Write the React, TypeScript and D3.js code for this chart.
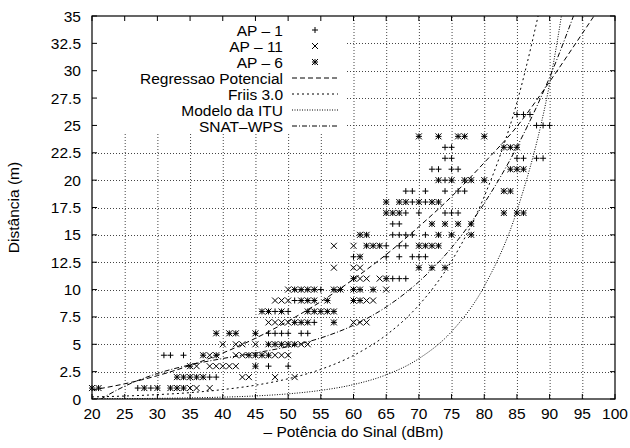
import { useEffect, useRef } from 'react'
import * as d3 from 'd3'

// eixos
const xTicks = [20, 25, 30, 35, 40, 45, 50, 55, 60, 65, 70, 75, 80, 85, 90, 95, 100]
const yTicks = [0, 2.5, 5, 7.5, 10, 12.5, 15, 17.5, 20, 22.5, 25, 27.5, 30, 32.5, 35]

// medições: [-potência (dBm), distância (m)]
const ap1: [number, number][] = [
  [27, 1], [29, 1], [38, 2], [39, 2], [47, 3], [50, 3], [31, 4], [32, 4], [34, 4],
  [47, 6], [48, 6], [49, 6], [50, 6], [52, 6], [53, 6], [54, 7], [48, 8], [50, 8],
  [51, 9], [55, 10], [66, 11], [67, 11], [68, 11],
  [60, 13], [65, 13], [67, 13], [69, 13], [70, 13], [71, 13],
  [65, 14], [67, 14], [68, 14], [66, 15], [67, 15], [68, 15], [69, 15], [71, 15],
  [66, 16], [67, 16], [68, 17], [70, 17], [74, 17], [75, 17], [76, 17],
  [69, 18], [71, 18], [68, 19], [69, 19], [71, 19], [74, 19], [76, 19], [77, 19],
  [74, 20], [72, 21], [73, 21], [75, 21], [76, 21],
  [74, 22], [75, 22], [85, 22], [86, 22], [88, 22], [89, 22], [74, 23], [75, 23],
  [88, 25], [89, 25], [90, 25], [85, 26], [86, 26], [87, 26]
]

const ap11: [number, number][] = [
  [35, 1], [36, 1], [38, 1], [43, 2], [44, 2], [48, 2], [51, 2],
  [36, 3], [38, 3], [39, 3], [40, 3], [41, 3], [42, 3],
  [38, 4], [42, 4], [43, 4], [48, 4], [49, 4], [50, 4],
  [40, 5], [42, 5], [43, 5], [45, 5], [52, 5], [53, 5],
  [47, 7], [48, 7], [49, 7], [50, 7], [60, 7], [61, 7], [62, 7],
  [48, 9], [49, 9], [50, 9], [62, 9], [63, 9], [50, 10], [65, 10],
  [61, 11], [62, 11], [64, 11], [57, 12], [60, 12], [61, 12], [57, 14], [60, 14]
]

const ap6: [number, number][] = [
  [20, 1], [21, 1], [28, 1], [30, 1], [32, 1], [33, 1], [34, 1],
  [33, 2], [34, 2], [35, 2], [36, 2], [37, 2], [35, 3], [45, 3],
  [37, 4], [39, 4], [44, 4], [45, 4], [46, 4], [47, 4],
  [47, 5], [48, 5], [49, 5], [50, 5], [51, 5], [39, 6], [41, 6], [42, 6], [45, 6],
  [51, 7], [52, 7], [53, 7], [57, 7],
  [46, 8], [47, 8], [49, 8], [53, 8], [54, 8], [55, 8], [56, 8], [57, 8],
  [52, 9], [53, 9], [54, 9], [56, 9], [60, 9], [61, 9],
  [51, 10], [52, 10], [53, 10], [54, 10], [57, 10], [58, 10], [60, 10], [61, 10], [63, 10],
  [60, 11], [65, 11], [70, 12], [72, 12], [74, 12], [61, 13],
  [62, 14], [63, 14], [64, 14], [70, 14], [71, 14], [72, 14], [73, 14],
  [61, 15], [62, 15], [73, 15], [75, 15], [78, 15], [72, 16], [74, 16], [76, 16], [78, 16],
  [65, 17], [66, 17], [67, 17], [83, 17], [85, 17], [86, 17],
  [65, 18], [67, 18], [68, 18], [70, 18], [72, 18], [73, 18], [83, 19], [84, 19],
  [73, 20], [75, 20], [77, 20], [78, 20], [80, 20], [84, 21], [85, 21], [86, 21],
  [83, 23], [84, 23], [85, 23], [70, 24], [73, 24], [76, 24], [77, 24], [80, 24]
]

// curvas dos modelos
const regressao: [number, number][] = [
  [20, 0.82], [25, 1.39], [30, 2.13], [35, 3.07], [40, 4.2], [45, 5.55], [50, 7.12],
  [55, 8.9], [60, 10.95], [65, 13.2], [70, 15.75], [75, 18.5], [80, 21.6], [85, 24.9],
  [90, 29.0], [95, 33.4], [100, 37.9]
]
const friis: [number, number][] = [
  [20, 0.19], [25, 0.27], [30, 0.4], [35, 0.58], [40, 0.86], [45, 1.26], [50, 1.85],
  [55, 2.71], [60, 3.98], [65, 5.84], [70, 8.58], [75, 12.6], [80, 18.5], [85, 27.1], [90, 39.8]
]
const itu: [number, number][] = [
  [20, 0.02], [30, 0.06], [40, 0.17], [45, 0.28], [50, 0.47], [55, 0.79], [60, 1.32],
  [65, 2.21], [70, 3.69], [75, 6.16], [80, 10.3], [85, 17.2], [90, 28.8], [95, 48]
]
const snat: [number, number][] = [
  [20, -0.49], [25, 1.17], [30, 2.33], [35, 3.12], [40, 3.7], [45, 4.21], [50, 4.79],
  [55, 5.58], [60, 6.74], [65, 8.41], [70, 10.72], [75, 13.83], [80, 17.89], [85, 23.03],
  [90, 29.4], [95, 37.2]
]

const pointLabels = ['AP \u2013 1', 'AP \u2013 11', 'AP \u2013 6']
const lineLabels = ['Regressao Potencial', 'Friis 3.0', 'Modelo da ITU', 'SNAT\u2013WPS']
const dashes = ['5,3', '2,3', '1,1.5', '5,2,1,2']

function App() {
  const svg_ref = useRef<SVGSVGElement>(null)
  const width = 630,
        height = 448
  const font = '"Liberation Sans", Arial, Helvetica, sans-serif'
  const fs = 15.5

  useEffect(() => {
    const svg = d3.select(svg_ref.current)
    svg.selectAll('*').remove()

    const x = d3.scaleLinear([20, 100], [92, 615]),
          y = d3.scaleLinear([0, 35], [399, 16])
    const [x0, x1] = x.range(), [y0, y1] = y.range()

    svg.append('rect').attr('width', width).attr('height', height).attr('fill', '#fff')

    // grade pontilhada
    const grid = svg.append('g').attr('stroke', '#444').attr('stroke-width', 1)
      .attr('stroke-dasharray', '1,2')
    grid.selectAll('.gx').data(xTicks.slice(1, -1)).join('line')
      .attr('x1', d => x(d) + 0.5).attr('x2', d => x(d) + 0.5)
      .attr('y1', y0).attr('y2', y1)
    grid.selectAll('.gy').data(yTicks.slice(1, -1)).join('line')
      .attr('y1', d => Math.round(y(d)) + 0.5).attr('y2', d => Math.round(y(d)) + 0.5)
      .attr('x1', x0).attr('x2', x1)

    // fundo da legenda
    svg.append('rect').attr('x', x0).attr('y', y1).attr('width', 254).attr('height', 118)
      .attr('fill', '#fff')

    // borda e marcas
    svg.append('rect').attr('x', x0).attr('y', y1).attr('width', x1 - x0).attr('height', y0 - y1)
      .attr('fill', 'none').attr('stroke', '#000').attr('stroke-width', 1.2)
    const tk = svg.append('g').attr('stroke', '#000').attr('stroke-width', 1)
    const tl = 5
    xTicks.forEach(v => {
      tk.append('line').attr('x1', x(v)).attr('x2', x(v)).attr('y1', y0).attr('y2', y0 - tl)
      tk.append('line').attr('x1', x(v)).attr('x2', x(v)).attr('y1', y1).attr('y2', y1 + tl)
    })
    yTicks.forEach(v => {
      tk.append('line').attr('x1', x0).attr('x2', x0 + tl).attr('y1', y(v)).attr('y2', y(v))
      tk.append('line').attr('x1', x1).attr('x2', x1 - tl).attr('y1', y(v)).attr('y2', y(v))
    })

    const txt = svg.append('g').attr('font-family', font).attr('font-size', fs).attr('fill', '#000')
    txt.selectAll('.xl').data(xTicks).join('text')
      .attr('x', d => x(d)).attr('y', 419).attr('text-anchor', 'middle').text(d => d)
    txt.selectAll('.yl').data(yTicks).join('text')
      .attr('x', 81).attr('y', d => y(d) + 5.5).attr('text-anchor', 'end').text(d => d)
    txt.append('text').attr('x', (x0 + x1) / 2).attr('y', 437).attr('text-anchor', 'middle')
      .text('\u2013 Pot\u00eancia do Sinal (dBm)')
    txt.append('text').attr('transform', `translate(18.5, ${(y0 + y1) / 2}) rotate(-90)`)
      .attr('text-anchor', 'middle').text('Dist\u00e2ncia (m)')

    // curvas
    svg.append('clipPath').attr('id', 'plot-clip').append('rect')
      .attr('x', x0).attr('y', y1).attr('width', x1 - x0).attr('height', y0 - y1)
    const ln = d3.line<[number, number]>().x(d => x(d[0])).y(d => y(d[1])).curve(d3.curveMonotoneX)
    const curves = svg.append('g').attr('clip-path', 'url(#plot-clip)')
    ;[regressao, friis, itu, snat].forEach((c, i) => {
      curves.append('path').attr('d', ln(c)).attr('fill', 'none').attr('stroke', '#000')
        .attr('stroke-width', 1).attr('stroke-dasharray', dashes[i])
    })

    // marcadores
    const s = 3
    const plus = (g, cx, cy) => g.append('path')
      .attr('d', `M${cx - s},${cy}H${cx + s}M${cx},${cy - s}V${cy + s}`)
    const cross = (g, cx, cy) => g.append('path')
      .attr('d', `M${cx - s},${cy - s}L${cx + s},${cy + s}M${cx - s},${cy + s}L${cx + s},${cy - s}`)
    const star = (g, cx, cy) => { plus(g, cx, cy); cross(g, cx, cy) }
    const marks = [plus, cross, star]
    const pts = svg.append('g').attr('stroke', '#000').attr('stroke-width', 1).attr('fill', 'none')
    ;[ap1, ap11, ap6].forEach((data, i) => {
      data.forEach(d => marks[i](pts, x(d[0]), y(d[1])))
    })

    // legenda
    const lx = 283
    const rowY = (i: number) => 30 + 16 * i
    pointLabels.forEach((l, i) => {
      txt.append('text').attr('x', lx).attr('y', rowY(i) + 5.5).attr('text-anchor', 'end').text(l)
      marks[i](pts, 315, rowY(i))
    })
    lineLabels.forEach((l, i) => {
      const ry = rowY(i + 3)
      txt.append('text').attr('x', lx).attr('y', ry + 5.5).attr('text-anchor', 'end').text(l)
      svg.append('line').attr('x1', 292).attr('x2', 338).attr('y1', ry).attr('y2', ry)
        .attr('stroke', '#000').attr('stroke-width', 1).attr('stroke-dasharray', dashes[i])
    })
  }, [])

  return (
    <svg ref={svg_ref} width={width} height={height} viewBox={`0 0 ${width} ${height}`}
      style={{ position: 'absolute', left: 0, top: 0 }}></svg>
  )
}

export default App
